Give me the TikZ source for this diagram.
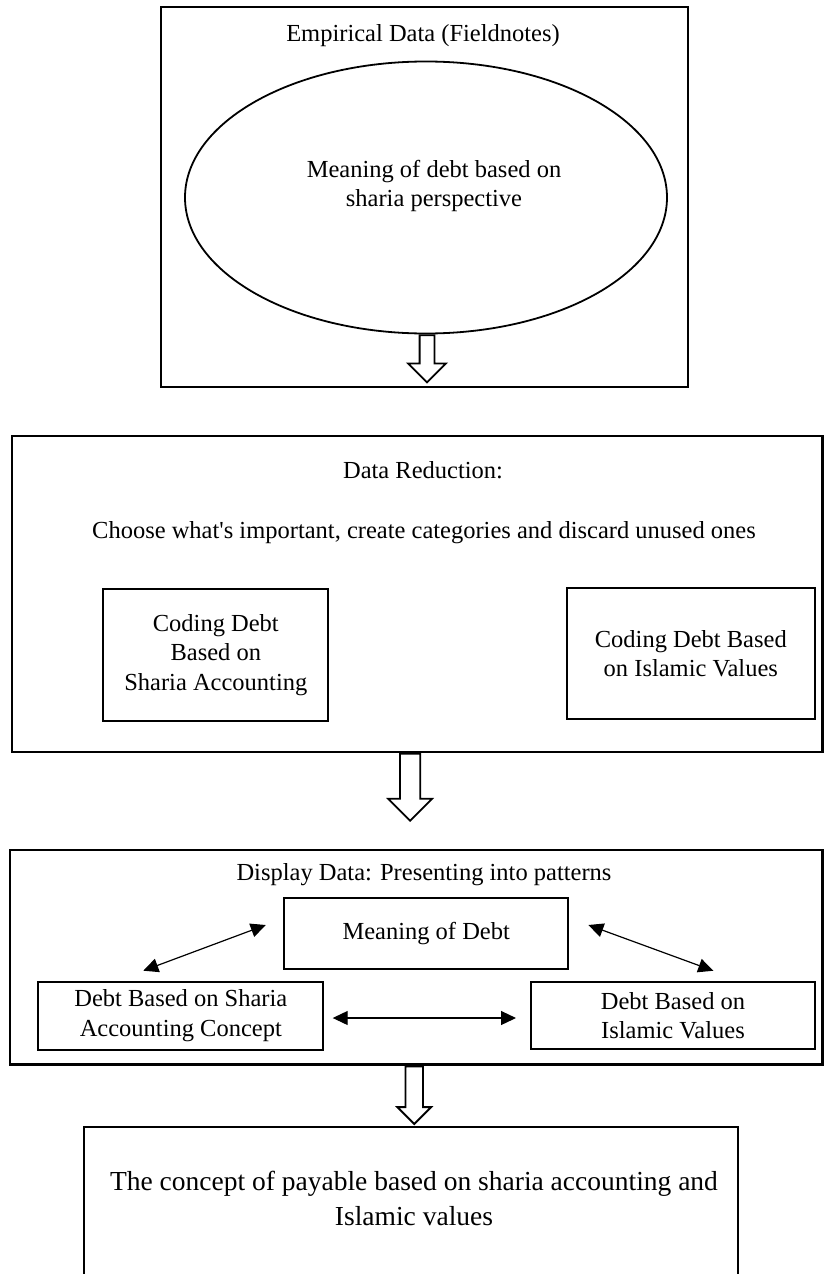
\documentclass[tikz,border=0pt]{standalone}
\usepackage{fontspec}
\setmainfont{Liberation Serif}
\usepackage{tikz}
\usetikzlibrary{shapes.geometric, shapes.arrows, arrows.meta}
\tikzstyle{frame} = [rectangle, draw=black, line width=2.2pt, inner sep=0pt]
\tikzstyle{box} = [rectangle, draw=black, line width=2pt, align=center, inner sep=0pt, font=\fontsize{24.5}{29.5}\selectfont]
\tikzstyle{oval} = [ellipse, draw=black, line width=1.8pt, inner sep=0pt]
\tikzstyle{txt} = [align=center, inner sep=0pt, font=\fontsize{24.5}{29.5}\selectfont]
\tikzstyle{blockarrow} = [single arrow, draw=black, line width=1.8pt, fill=white, rotate=-90, anchor=tail, minimum width=0pt, inner xsep=0pt, single arrow tip angle=90]
\tikzstyle{arrow} = [line width=1.2pt, {Triangle[length=15pt,width=14pt]}-{Triangle[length=15pt,width=14pt]}]

\begin{document}
\begin{tikzpicture}[x=1pt, y=-1pt]
            \useasboundingbox (0,0) rectangle (824,1274);
            \clip (0,0) rectangle (824,1274);

            % empirical data
            \node(empirical) [frame, minimum width=527.6pt, minimum height=379.4pt] at (424.5,197) {};
            \node(emptitle) [txt, anchor=base] at (423,41.7) {Empirical Data (Fieldnotes)};
            \node(meaning1) [oval, minimum width=482pt, minimum height=272pt] at (426,197.5) {};
            \node(meaningtxt) [txt] at (434,186) {Meaning of debt based on\\sharia perspective};

            % data reduction
            \node(reduction) [frame, minimum width=810.8pt, minimum height=316pt] at (417.1,593.7) {};
            \node(redtitle) [txt, anchor=base] at (423,478.3) {Data Reduction:};
            \node(redtext) [txt, anchor=base] at (424,538.3) {Choose what\textquotesingle s important, create categories and discard unused ones};
            \node(coding1) [box, minimum width=225pt, minimum height=131.4pt] at (215.8,655) {Coding Debt\\Based on\\Sharia Accounting};
            \node(coding2) [box, minimum width=248.3pt, minimum height=130.7pt] at (690.8,653.7) {Coding Debt Based\\on Islamic Values};

            % display data
            \node(display) [frame, minimum width=812.5pt, minimum height=214.5pt] at (416.25,957.25) {};
            \node(distitle) [txt, anchor=base] at (424,880) {Display Data: Presenting into patterns};
            \node(debt) [box, minimum width=284.3pt, minimum height=70.4pt] at (426.2,933.5) {Meaning of Debt};
            \node(sharia) [box, minimum width=285pt, minimum height=67.8pt] at (180.8,1015.6) {Debt Based on Sharia\\Accounting Concept};
            \node(islamic) [box, minimum width=284pt, minimum height=66.7pt] at (673,1015.7) {Debt Based on\\Islamic Values};

            % conclusion
            \node(concept) [frame, minimum width=654pt, minimum height=173.3pt] at (411,1213.35) {};
            \node(concepttxt) [txt, font=\fontsize{27.5}{35}\selectfont] at (414,1198) {The concept of payable based on sharia accounting and\\Islamic values};

            % block arrows
            \node(arr1) [blockarrow, minimum height=47pt, inner ysep=6.5pt, single arrow head extend=11.5pt] at ([xshift=1pt]meaning1.south) {};
            \node(arr2) [blockarrow, minimum height=67pt, inner ysep=9.3pt, single arrow head extend=11.7pt] at ([xshift=-7pt]reduction.south) {};
            \node(arr3) [blockarrow, minimum height=57.5pt, inner ysep=7.8pt, single arrow head extend=8.2pt] at ([xshift=-2pt]display.south) {};

            \draw[arrow] ([xshift=-37.5pt, yshift=10pt]sharia.north) -- ([xshift=-17.3pt, yshift=8.5pt]debt.west);
            \draw[arrow] ([xshift=19pt, yshift=8.5pt]debt.east) -- ([xshift=40.3pt, yshift=10.6pt]islamic.north);
            \draw[arrow] ([xshift=8.4pt, yshift=-2.4pt]sharia.east) -- ([xshift=-14pt, yshift=-2.3pt]islamic.west);
        \end{tikzpicture}
\end{document}
